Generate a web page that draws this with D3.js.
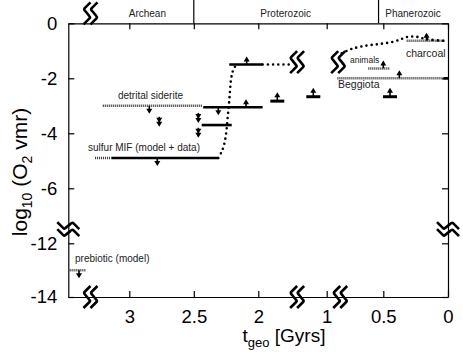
<!DOCTYPE html>
<html>
<head>
<meta charset="utf-8">
<script src="https://cdn.jsdelivr.net/npm/d3@7"></script>
<style>
    body { margin: 0; background: #fff; }
    svg { display: block; font-family: "Liberation Sans", Arial, sans-serif; }
</style>
</head>
<body>
<div id="chart"></div>
<script>
// Axis ticks
const xTicks = [3, 2.5, 2, 1, 0.5, 0];
const yTicks = [0, -2, -4, -6, -12, -14];

// Geological eons (age in Gyr)
const eonNames = ['Archean', 'Proterozoic', 'Phanerozoic'];
const eonBounds = [2.5, 0.542];
const eonLabelAge = [2.86, 1.6, 0.27];

// Thick solid constraints: [from age, to age, log10 O2]
const solidLimits = [
    [3.137, 2.31, -4.9],
    [2.427, 1.936, -3.05],
    [2.439, 2.206, -3.7],
    [2.225, 1.936, -1.5],
    [0.036, 0, -2]
];

// Thin hatched proxies: [from age, to age, log10 O2]
const proxyLines = [
    [3.473, 3.336, -13],    // prebiotic
    [3.266, 3.137, -4.9],   // sulfur MIF model
    [3.206, 2.431, -3],     // detrital siderite
    [0.906, 0.036, -2],     // Beggiota
    [0.633, 0.448, -1.64],  // animals
    [0.320, 0.023, -0.63]   // charcoal
];

// Dotted O2 history
const riseCurve = [[2.31, -4.9], [2.284, -4.67], [2.266, -4.43], [2.253, -4.12], [2.245, -3.82],
    [2.237, -3.4], [2.227, -2.91], [2.219, -2.43], [2.212, -2.06], [2.199, -1.76], [2.181, -1.58]];
const midPlateau = [[1.936, -1.5], [1.493, -1.5]];
const lateCurve = [[0.867, -1.09], [0.779, -0.93], [0.647, -0.81], [0.529, -0.75], [0.423, -0.67],
    [0.358, -0.57], [0.307, -0.49], [0.242, -0.49], [0.191, -0.55], [0.126, -0.6], [0.023, -0.64]];

// Arrows: [age, log10 O2]
const upArrows = [[2.095, -3.05], [2.09, -1.5], [0.376, -2], [0.5, -1.64], [0.166, -0.63]];
const downArrows = [[3.39, -13], [2.845, -3], [2.783, -4.9], [2.31, -3.05]];
const doubleDown = [[2.768, -3.4], [2.465, -3.26], [2.465, -3.8]];
const lowerBounds = [[1.722, -2.83], [1.196, -2.67], [0.448, -2.67]];

// Annotations
const labelText = ['detrital siderite', 'sulfur MIF (model + data)', 'prebiotic (model)', 'animals', 'Beggiota', 'charcoal'];
const labelAge = [2.836, 3.32, 3.421, 0.794, 0.9, 0.325];
const labelLevel = [-2.75, -4.64, -12.7, -1.45, -2.35, -1.24];
const labelSize = [10, 10, 10, 8.5, 10.5, 10.5];

// Axis breaks
const xBreakAges = [3.305, 1.44, 0.885];
const plotBreaks = [[1.44, -1.41], [0.903, -1.41]];
const yBreakLevel = -10.4;

const width = 463, height = 361;

let svg = d3.select('#chart').append('svg')
    .attr('width', width)
    .attr('height', height);

// Broken scales: x jumps between 2 and 1 Gyr, y jumps from -6 to -12
let x = d3.scaleLinear()
    .domain([3.473, 2, 1, 0.5, 0])
    .range([68.3, 258.3, 326.7, 383.3, 448]);
let y = d3.scaleLinear()
    .domain([-14, -12, -6, 0])
    .range([297, 243.3, 188.3, 23.3]);

const fmt = d => String(d);

// Axes
let axisB = svg.append('g').attr('transform', `translate(0,${y(-14)})`)
    .call(d3.axisBottom(x).tickValues(xTicks).tickSizeInner(-6).tickSizeOuter(0).tickPadding(13).tickFormat(fmt));
let axisT = svg.append('g').attr('transform', `translate(0,${y(0)})`)
    .call(d3.axisTop(x).tickValues(xTicks).tickSizeInner(-6).tickSizeOuter(0).tickFormat(''));
let axisL = svg.append('g').attr('transform', `translate(${x(3.473)},0)`)
    .call(d3.axisLeft(y).tickValues(yTicks).tickSizeInner(-6).tickSizeOuter(0).tickPadding(11).tickFormat(fmt));
let axisR = svg.append('g').attr('transform', `translate(${x(0)},0)`)
    .call(d3.axisRight(y).tickValues(yTicks).tickSizeInner(-6).tickSizeOuter(0).tickFormat(''));

[axisB, axisT, axisL, axisR].forEach(a => {
    a.attr('font-family', null).attr('font-size', 18.5);
    a.selectAll('path, line').attr('stroke', '#000').attr('stroke-width', 1.2);
    a.selectAll('text').attr('fill', '#000');
});

// Eon band above the plot
svg.selectAll('.eon-line')
    .data(eonBounds)
    .enter()
    .append('line')
    .attr('x1', d => x(d)).attr('x2', d => x(d))
    .attr('y1', 0).attr('y2', y(0))
    .attr('stroke', '#000').attr('stroke-width', 1.2);

svg.selectAll('.eon-label')
    .data(eonNames)
    .enter()
    .append('text')
    .attr('x', (d, i) => x(eonLabelAge[i]))
    .attr('y', 16.5)
    .attr('text-anchor', 'middle')
    .attr('font-size', 10)
    .attr('fill', '#222')
    .text(d => d);

let line = d3.line().x(d => x(d[0])).y(d => y(d[1]));

// Hatched proxy lines
svg.selectAll('.proxy')
    .data(proxyLines)
    .enter()
    .append('path')
    .attr('d', d => line([[d[0], d[2]], [d[1], d[2]]]))
    .attr('stroke', '#444').attr('stroke-width', 2.5)
    .attr('stroke-dasharray', '1.1,0.9')
    .attr('fill', 'none');

// Dotted O2 history
let curveLine = d3.line().x(d => x(d[0])).y(d => y(d[1])).curve(d3.curveCatmullRom);
[riseCurve, midPlateau, lateCurve].forEach(c => {
    svg.append('path')
        .attr('d', curveLine(c))
        .attr('fill', 'none')
        .attr('stroke', '#000').attr('stroke-width', 2.6)
        .attr('stroke-linecap', 'round')
        .attr('stroke-dasharray', '0,5.2');
});

// Thick solid constraints
svg.selectAll('.limit')
    .data(solidLimits)
    .enter()
    .append('path')
    .attr('d', d => line([[d[0], d[2]], [d[1], d[2]]]))
    .attr('stroke', '#000').attr('stroke-width', 2.6)
    .attr('fill', 'none');

// Arrow drawing: dir = -1 up, +1 down
function drawArrow(px, py, dir, len, heads) {
    let tip = py + dir * len;
    svg.append('line')
        .attr('x1', px).attr('x2', px)
        .attr('y1', py).attr('y2', tip - dir * 2)
        .attr('stroke', '#000').attr('stroke-width', 1.6);
    for (let k = 0; k < heads; k++) {
        let t = tip - dir * k * 4;
        svg.append('path')
            .attr('d', `M${px},${t} L${px - 3},${t - dir * 5} L${px + 3},${t - dir * 5} Z`)
            .attr('fill', '#000');
    }
}

upArrows.forEach(d => drawArrow(x(d[0]), y(d[1]), -1, 8, 1));
downArrows.forEach(d => drawArrow(x(d[0]), y(d[1]), 1, 8, 1));
doubleDown.forEach(d => drawArrow(x(d[0]), y(d[1]), 1, 10, 2));

// Lower bound markers (bar with arrow up)
lowerBounds.forEach(d => {
    svg.append('line')
        .attr('x1', x(d[0]) - 7).attr('x2', x(d[0]) + 7)
        .attr('y1', y(d[1])).attr('y2', y(d[1]))
        .attr('stroke', '#000').attr('stroke-width', 3);
    drawArrow(x(d[0]), y(d[1]), -1, 9, 1);
});

// Annotation labels
svg.selectAll('.note')
    .data(labelText)
    .enter()
    .append('text')
    .attr('x', (d, i) => x(labelAge[i]))
    .attr('y', (d, i) => y(labelLevel[i]))
    .attr('text-anchor', (d, i) => i === 0 ? 'middle' : 'start')
    .attr('font-size', (d, i) => labelSize[i])
    .attr('fill', '#222')
    .text(d => d);

// Break symbol: two slanted S strokes
function breakMark(cx, cy, angle) {
    let g = svg.append('g').attr('transform', `translate(${cx},${cy}) rotate(${angle})`);
    [-3.5, 3.5].forEach(dx => {
        g.append('path')
            .attr('d', `M${dx + 4},-11 L${dx - 2},-5 Q${dx - 3},-4 ${dx - 1},-2 L${dx + 3},3 Q${dx + 4},4 ${dx + 3},5 L${dx - 3},11`)
            .attr('fill', 'none')
            .attr('stroke', '#000').attr('stroke-width', 2.6)
            .attr('stroke-linejoin', 'round');
    });
}

xBreakAges.forEach(a => breakMark(x(a), y(-14), 0));
breakMark(x(xBreakAges[0]), y(0) - 10, 0);
plotBreaks.forEach(d => breakMark(x(d[0]), y(d[1]), 0));
breakMark(x(3.473), y(yBreakLevel), 90);
breakMark(x(0), y(yBreakLevel), 90);

// Axis titles
let xt = svg.append('text')
    .attr('x', 284).attr('y', 342)
    .attr('text-anchor', 'middle')
    .attr('font-size', 19);
xt.append('tspan').text('t');
xt.append('tspan').attr('font-size', 13).attr('dy', 5).text('geo');
xt.append('tspan').attr('dy', -5).text(' [Gyrs]');

let yt = svg.append('text')
    .attr('transform', 'translate(27,172) rotate(-90)')
    .attr('text-anchor', 'middle')
    .attr('font-size', 21);
yt.append('tspan').text('log');
yt.append('tspan').attr('font-size', 14).attr('dy', 5).text('10');
yt.append('tspan').attr('dy', -5).text(' (O');
yt.append('tspan').attr('font-size', 14).attr('dy', 5).text('2');
yt.append('tspan').attr('dy', -5).text(' vmr)');
</script>
</body>
</html>
